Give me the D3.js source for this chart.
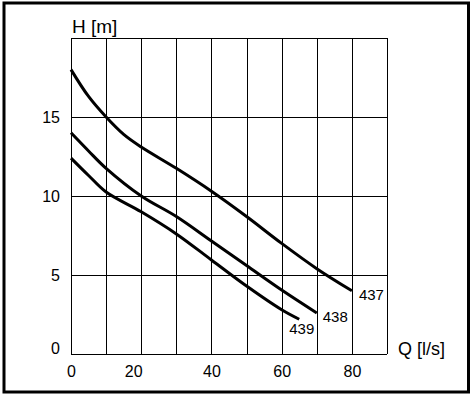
<!DOCTYPE html>
<html>
<head>
<meta charset="utf-8">
<script src="https://cdn.jsdelivr.net/npm/d3@7"></script>
<style>
  html, body { margin: 0; padding: 0; background: #fff; }
  svg { display: block; }
  text { font-family: "Liberation Sans", Arial, sans-serif; fill: #000; }
</style>
</head>
<body>
<svg id="chart" width="473" height="398"></svg>
<script>
// ---- data ----
const q437 = [0, 5, 10, 15, 20, 30, 40, 50, 60, 70, 80];
const h437 = [18, 16.3, 15.0, 13.9, 13.1, 11.75, 10.3, 8.7, 7.0, 5.4, 4.0];
const q438 = [0, 5, 10, 20, 30, 40, 50, 60, 70];
const h438 = [14, 12.85, 11.75, 10.0, 8.7, 7.15, 5.6, 4.05, 2.6];
const q439 = [0, 5, 10, 20, 30, 40, 50, 60, 65];
const h439 = [12.4, 11.3, 10.25, 9.0, 7.6, 5.95, 4.3, 2.8, 2.2];
const seriesNames = ["437", "438", "439"];
const xGridTicks = [0, 10, 20, 30, 40, 50, 60, 70, 80, 90];
const yGridTicks = [0, 5, 10, 15, 20];
const xTickLabels = [0, 20, 40, 60, 80];
const yTickLabels = [0, 5, 10, 15];
const xTitle = "Q [l/s]";
const yTitle = "H [m]";

const series = [
  {name: seriesNames[0], q: q437, h: h437, lx: 7, ly: 9},
  {name: seriesNames[1], q: q438, h: h438, lx: 6, ly: 9},
  {name: seriesNames[2], q: q439, h: h439, lx: -10, ly: 15}
];

const svg = d3.select("#chart");
const x = d3.scaleLinear().domain([0, 90]).range([71, 387]);
const y = d3.scaleLinear().domain([0, 20]).range([354, 38]);

// outer frame
svg.append("rect")
  .attr("x", 4).attr("y", 3).attr("width", 464.5).attr("height", 389)
  .attr("fill", "none").attr("stroke", "#000").attr("stroke-width", 3);

// grid
const gx = svg.append("g").attr("transform", `translate(0,${y(0)})`)
  .call(d3.axisBottom(x).tickValues(xGridTicks).tickSize(-(y(0) - y(20))).tickFormat(""));
const gy = svg.append("g").attr("transform", `translate(${x(0)},0)`)
  .call(d3.axisLeft(y).tickValues(yGridTicks).tickSize(-(x(90) - x(0))).tickFormat(""));
[gx, gy].forEach(g => {
  g.select(".domain").remove();
  g.selectAll("line").attr("stroke", "#000").attr("stroke-width", 1).attr("shape-rendering", "crispEdges");
});

// x tick labels
const ax = svg.append("g").attr("transform", `translate(0,${y(0)})`)
  .call(d3.axisBottom(x).tickValues(xTickLabels).tickSize(0).tickPadding(0).tickFormat(d3.format("d")));
ax.select(".domain").remove();
ax.selectAll("text")
  .attr("dy", null).attr("y", 23)
  .attr("dx", d => d === 20 ? -8 : 0)
  .style("font-size", "16px");

// y tick labels
const ay = svg.append("g").attr("transform", `translate(${x(0)},0)`)
  .call(d3.axisLeft(y).tickValues(yTickLabels).tickSize(0).tickPadding(11).tickFormat(d3.format("d")));
ay.select(".domain").remove();
ay.selectAll("text")
  .attr("dy", d => d === 0 ? "-0.05em" : "0.35em")
  .style("font-size", "16px");

// axis titles
svg.append("text").attr("x", 72).attr("y", 33).style("font-size", "19px").text(yTitle);
svg.append("text").attr("x", 398).attr("y", 355).style("font-size", "18px").text(xTitle);

// curves
const line = d3.line().x(d => x(d[0])).y(d => y(d[1])).curve(d3.curveCatmullRom.alpha(0.5));
series.forEach(s => {
  const pts = s.q.map((v, i) => [v, s.h[i]]);
  svg.append("path").datum(pts)
    .attr("d", line)
    .attr("fill", "none").attr("stroke", "#000").attr("stroke-width", 3)
    .attr("stroke-linecap", "butt");
  const last = pts[pts.length - 1];
  svg.append("text")
    .attr("x", x(last[0]) + s.lx).attr("y", y(last[1]) + s.ly)
    .style("font-size", "15px")
    .text(s.name);
});
</script>
</body>
</html>
